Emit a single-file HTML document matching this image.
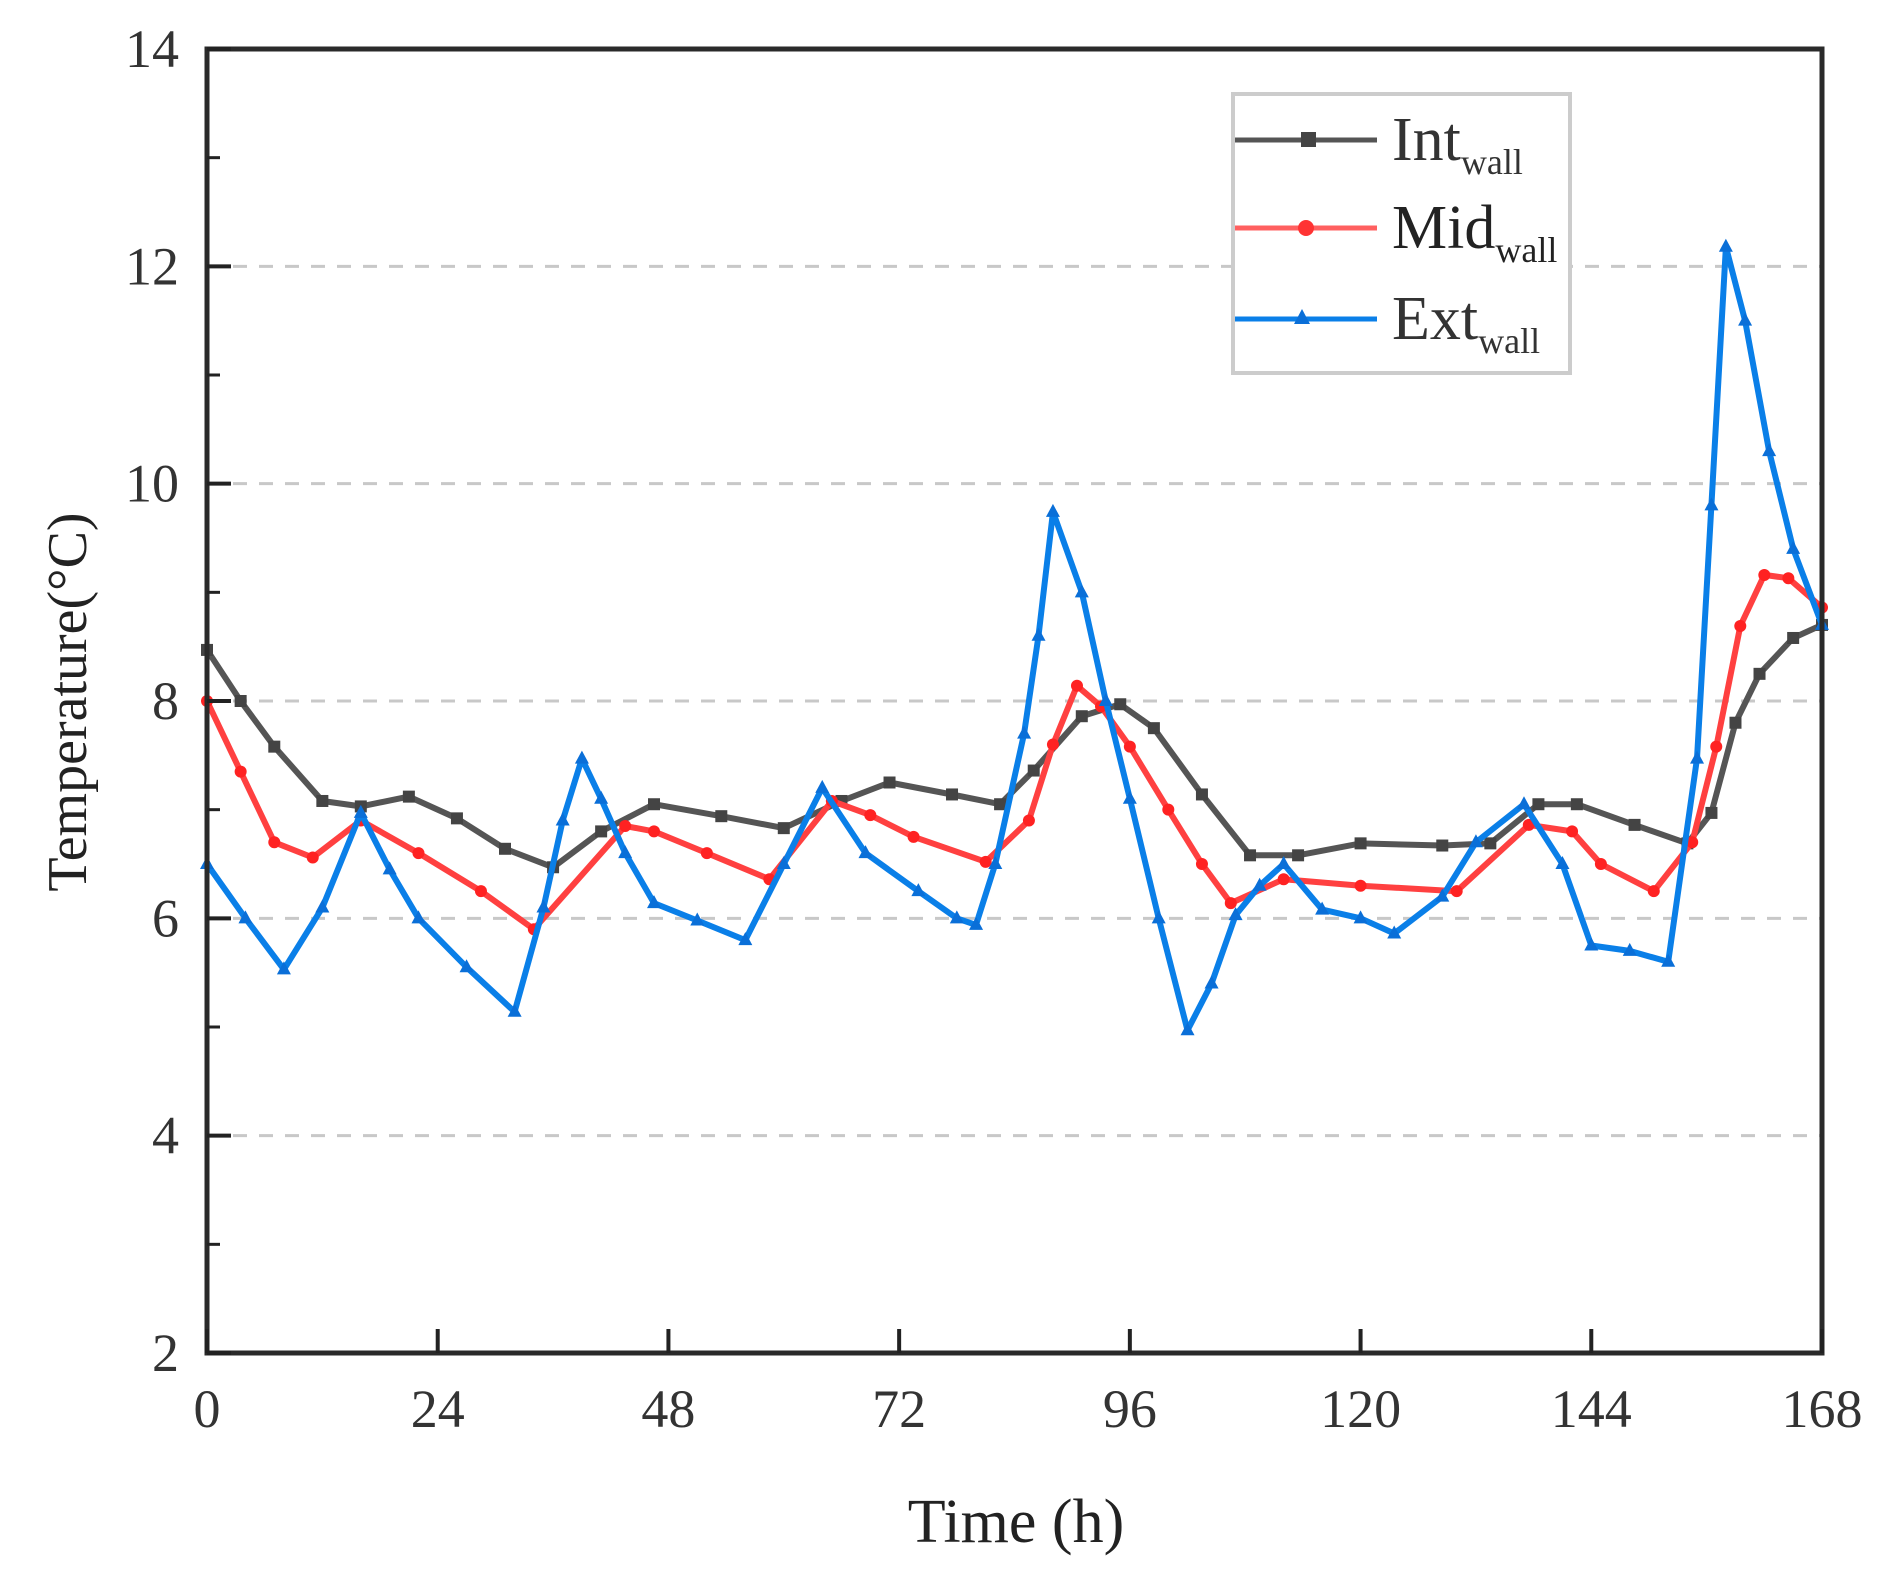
<!DOCTYPE html>
<html><head><meta charset="utf-8"><style>
html,body{margin:0;padding:0;background:#fff;}
svg{display:block;font-family:"Liberation Serif",serif;}
</style></head><body>
<svg id="chart" width="1888" height="1586" viewBox="0 0 1888 1586" xmlns="http://www.w3.org/2000/svg">
<g id="grid"></g>
<g id="series"></g>
<g id="axes"></g>
<text x="1016" y="1542" font-size="62" text-anchor="middle" fill="#222">Time (h)</text>
<text transform="translate(86,702) rotate(-90)" font-size="56" text-anchor="middle" fill="#222">Temperature(°C)</text>
<g>
<rect x="1233" y="94" width="337" height="279" fill="#fff" stroke="#ccc" stroke-width="4"/>
<g>
<line x1="1235" y1="140" x2="1377" y2="140" stroke="#555" stroke-width="5"/>
<rect x="1301" y="132" width="15" height="15" fill="#444"/>
<text x="1392" y="160" font-size="62" fill="#333">Int<tspan font-size="36" dy="14">wall</tspan></text>
</g>
<g>
<line x1="1235" y1="228" x2="1377" y2="228" stroke="#ff6060" stroke-width="5"/>
<circle cx="1306" cy="228" r="8" fill="#f33"/>
<text x="1392" y="248" font-size="62" fill="#222">Mid<tspan font-size="36" dy="14">wall</tspan></text>
</g>
<g>
<line x1="1235" y1="319" x2="1377" y2="319" stroke="#0a7fe8" stroke-width="5"/>
<path d="M1302,309 L1310,324 L1294,324 Z" fill="#0a6fd8"/>
<text x="1392" y="339" font-size="62" fill="#333">Ext<tspan font-size="36" dy="14">wall</tspan></text>
</g>
</g>
</svg>
<script>
const timeInt=[0,3.5,7,12,16,21,26,31,36,41,46.5,53.5,60,66,71,77.5,82.5,86,91,95,98.5,103.5,108.5,113.5,120,128.5,133.5,138.5,142.5,148.5,154,156.5,159,161.5,165,168];
const valInt=[8.47,8.0,7.58,7.08,7.03,7.12,6.92,6.64,6.47,6.8,7.05,6.94,6.83,7.08,7.25,7.14,7.05,7.36,7.86,7.97,7.75,7.14,6.58,6.58,6.69,6.67,6.69,7.05,7.05,6.86,6.69,6.97,7.8,8.25,8.58,8.7];
const timeMid=[0,3.5,7,11,16,22,28.5,34,43.5,46.5,52,58.5,65,69,73.5,81,85.5,88,90.5,93,96,100,103.5,106.5,112,120,130,137.5,142,145,150.5,154.5,157,159.5,162,164.5,168];
const valMid=[8.0,7.35,6.7,6.56,6.9,6.6,6.25,5.9,6.85,6.8,6.6,6.36,7.08,6.95,6.75,6.52,6.9,7.6,8.14,7.95,7.58,7.0,6.5,6.14,6.36,6.3,6.25,6.86,6.8,6.5,6.25,6.7,7.58,8.69,9.16,9.13,8.86];
const timeExt=[0,4,8,12,16,19,22,27,32,35,37,39,41,43.5,46.5,51,56,60,64,68.5,74,78,80,82,85,86.5,88,91,93.5,96,99,102,104.5,107,109.5,112,116,120,123.5,128.5,132,137,141,144,148,152,155,156.5,158,160,162.5,165,168];
const valExt=[6.5,6.0,5.53,6.1,6.97,6.45,6.0,5.55,5.14,6.1,6.9,7.47,7.1,6.6,6.14,5.98,5.8,6.5,7.2,6.6,6.25,6.0,5.94,6.5,7.7,8.6,9.74,9.0,8.0,7.1,6.0,4.97,5.4,6.03,6.3,6.5,6.08,6.0,5.86,6.2,6.7,7.05,6.5,5.75,5.7,5.6,7.47,9.8,12.18,11.5,10.3,9.4,8.7];
const xTicks=[0,24,48,72,96,120,144,168];
const yTicks=[2,4,6,8,10,12,14];
const gridVals=[4,6,8,10,12];
const NS='http://www.w3.org/2000/svg';
const L=207,R=1822,T=49,B=1353;
function X(h){return L+(h-0)/(168-0)*(R-L);}
function Y(t){return B-(t-2)/(14-2)*(B-T);}
function mk(tag,attrs,parent){const e=document.createElementNS(NS,tag);for(const k in attrs)e.setAttribute(k,attrs[k]);parent.appendChild(e);return e;}
const grid=document.getElementById('grid'),axes=document.getElementById('axes'),ser=document.getElementById('series');
gridVals.forEach(v=>{const g=mk('line',{x1:L,x2:R,y1:Y(v),y2:Y(v),stroke:'#c8c8c8','stroke-width':3,'stroke-dasharray':'14,12'},grid);

});
function drawSeries(ts,vs,color,mcol,shape,name){
  const g=mk('g',{},ser);
  
  
  const pts=ts.map((t,i)=>X(t).toFixed(1)+','+Y(vs[i]).toFixed(1)).join(' ');
  const pl=mk('polyline',{points:pts,fill:'none',stroke:color,'stroke-width':6,'stroke-linejoin':'round'},g);
  
  
  ts.forEach((t,i)=>{const x=X(t),y=Y(vs[i]);let m;
    if(shape==='sq')m=mk('rect',{x:x-6,y:y-6,width:12,height:12,fill:mcol},g);
    else if(shape==='c')m=mk('circle',{cx:x,cy:y,r:6,fill:mcol},g);
    else m=mk('path',{d:`M${x},${y-8} L${x+7},${y+5} L${x-7},${y+5} Z`,fill:mcol},g);
    
    });
}
drawSeries(timeInt,valInt,'#555','#444','sq','int-wall');
drawSeries(timeMid,valMid,'#ff4040','#f22','c','mid-wall');
drawSeries(timeExt,valExt,'#0a7fe8','#0a6fd8','t','ext-wall');
const fr=mk('rect',{x:L,y:T,width:R-L,height:B-T,fill:'none',stroke:'#2a2a2a','stroke-width':5},axes);


xTicks.forEach(v=>{const t=mk('line',{x1:X(v),x2:X(v),y1:B,y2:B-24,stroke:'#222','stroke-width':4},axes);


const tx=mk('text',{x:X(v),y:B+74,'font-size':54,'text-anchor':'middle',fill:'#333'},axes);tx.textContent=v;

});
yTicks.forEach(v=>{const t=mk('line',{x1:L,x2:L+24,y1:Y(v),y2:Y(v),stroke:'#222','stroke-width':4},axes);


if(v<14){const m=mk('line',{x1:L,x2:L+13,y1:Y(v+1),y2:Y(v+1),stroke:'#222','stroke-width':3},axes);

}
const tx=mk('text',{x:179,y:Y(v)+18,'font-size':54,'text-anchor':'end',fill:'#333'},axes);tx.textContent=v;

});
</script>
</body></html>
